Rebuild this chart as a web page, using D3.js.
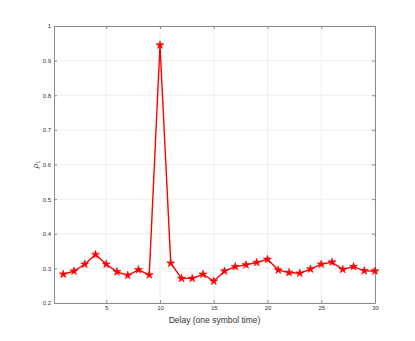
<!DOCTYPE html>
<html>
<head>
<meta charset="utf-8">
<script src="https://cdn.jsdelivr.net/npm/d3@7"></script>
<style>
body { margin: 0; background: #fff; }
text { font-family: "Liberation Sans", Arial, sans-serif; }
</style>
</head>
<body>
<div id="chart"></div>
<script>
// delay index and measured rho_1
var delays = d3.range(1, 31);
var rho = [0.283, 0.292, 0.312, 0.340, 0.312, 0.290, 0.280, 0.296, 0.281, 0.945,
           0.315, 0.271, 0.271, 0.283, 0.263, 0.292, 0.305, 0.310, 0.317, 0.326,
           0.295, 0.288, 0.286, 0.298, 0.312, 0.318, 0.297, 0.305, 0.293, 0.292];
var xTicks = [5, 10, 15, 20, 25, 30];
var yTicks = [0.2, 0.3, 0.4, 0.5, 0.6, 0.7, 0.8, 0.9, 1];

var W = 415, H = 341;
var pLeft = 54, pRight = 375, pTop = 26, pBottom = 303;

var svg = d3.select('#chart').append('svg')
	.attr('width', W).attr('height', H);

var x = d3.scaleLinear().domain([0.14, 30]).range([pLeft, pRight]);
var y = d3.scaleLinear().domain([0.2, 1]).range([pBottom, pTop]);

// grid
svg.append('g').selectAll('line').data(xTicks).enter().append('line')
	.attr('x1', d => x(d)).attr('x2', d => x(d))
	.attr('y1', pTop).attr('y2', pBottom)
	.attr('stroke', '#ebebeb').attr('stroke-width', 0.8);
svg.append('g').selectAll('line').data(yTicks).enter().append('line')
	.attr('x1', pLeft).attr('x2', pRight)
	.attr('y1', d => y(d)).attr('y2', d => y(d))
	.attr('stroke', '#ebebeb').attr('stroke-width', 0.8);

// axes
svg.append('g').attr('transform', 'translate(0,' + pBottom + ')')
	.call(d3.axisBottom(x).tickValues(xTicks).tickSizeInner(-3).tickSizeOuter(0).tickPadding(3));
svg.append('g').attr('transform', 'translate(' + pLeft + ',0)')
	.call(d3.axisLeft(y).tickValues(yTicks).tickFormat(d3.format('~g')).tickSizeInner(-3).tickSizeOuter(0).tickPadding(3));
svg.append('g').attr('transform', 'translate(0,' + pTop + ')')
	.call(d3.axisTop(x).tickValues(xTicks).tickSizeInner(-3).tickSizeOuter(0).tickFormat(''));
svg.append('g').attr('transform', 'translate(' + pRight + ',0)')
	.call(d3.axisRight(y).tickValues(yTicks).tickSizeInner(-3).tickSizeOuter(0).tickFormat(''));

svg.selectAll('.domain').attr('stroke', '#8c8c8c').attr('stroke-width', 1);
svg.selectAll('.tick line').attr('stroke', '#8c8c8c');
svg.selectAll('.tick text').attr('fill', '#333').style('font-size', '6px');

// line
var line = d3.line().x((d, i) => x(delays[i])).y(d => y(d));
svg.append('path').datum(rho)
	.attr('d', line)
	.attr('fill', 'none')
	.attr('stroke', '#ff0000')
	.attr('stroke-width', 1.4);

var star = d3.symbol().type(d3.symbolStar).size(20);
svg.append('g').selectAll('path').data(rho).enter().append('path')
	.attr('d', star)
	.attr('transform', (d, i) => 'translate(' + x(delays[i]) + ',' + y(d) + ')')
	.attr('fill', '#ff0000').attr('stroke', '#ff0000').attr('stroke-width', 0.6);

// labels
svg.append('text')
	.attr('x', (pLeft + pRight) / 2).attr('y', 323)
	.attr('text-anchor', 'middle').attr('fill', '#333')
	.style('font-size', '8.5px')
	.text('Delay (one symbol time)');

var yl = svg.append('text')
	.attr('transform', 'translate(38,' + (pTop + pBottom) / 2 + ') rotate(-90)')
	.attr('text-anchor', 'middle').attr('fill', '#333')
	.style('font-size', '8px').style('font-style', 'italic');
yl.append('tspan').text('ρ');
yl.append('tspan').attr('dy', 2).style('font-size', '5.5px').style('font-style', 'normal').text('1');
</script>
</body>
</html>
